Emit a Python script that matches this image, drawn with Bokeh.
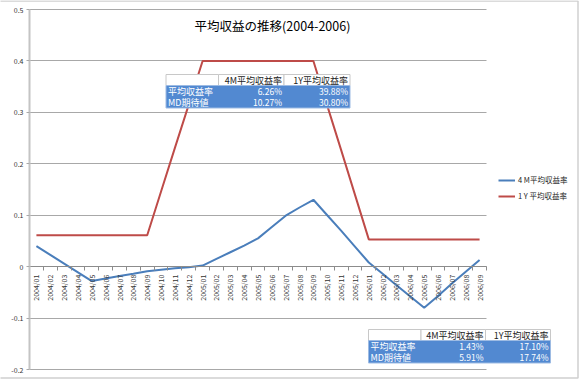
from math import pi
from bokeh.plotting import figure
from bokeh.models import (Range1d, LinearAxis, FixedTicker, Label, ColumnDataSource,
                          BoxAnnotation, Legend, LegendItem, Grid)
from bokeh.embed import file_html
from bokeh.resources import INLINE

# ---------------- data ----------------
months = ["2004/01", "2004/02", "2004/03", "2004/04", "2004/05", "2004/06", "2004/07",
          "2004/08", "2004/09", "2004/10", "2004/11", "2004/12", "2005/01", "2005/02",
          "2005/03", "2005/04", "2005/05", "2005/06", "2005/07", "2005/08", "2005/09",
          "2005/10", "2005/11", "2005/12", "2006/01", "2006/02", "2006/03", "2006/04",
          "2006/05", "2006/06", "2006/07", "2006/08", "2006/09"]

rate_4m = [0.040, 0.023, 0.006, -0.011, -0.028, -0.023, -0.018, -0.014, -0.009,
           -0.006, -0.003, -0.001, 0.002, 0.015, 0.028, 0.041, 0.055, 0.077, 0.099,
           0.115, 0.130, 0.100, 0.070, 0.039, 0.008, -0.014, -0.036, -0.058, -0.080,
           -0.057, -0.033, -0.010, 0.013]

rate_1y = [0.061, 0.061, 0.061, 0.061, 0.061, 0.061, 0.061, 0.061, 0.061,
           0.146, 0.231, 0.315, 0.400, 0.400, 0.400, 0.400, 0.400, 0.400, 0.400,
           0.400, 0.400, 0.313, 0.227, 0.140, 0.053, 0.053, 0.053, 0.053, 0.053,
           0.053, 0.053, 0.053, 0.053]

y_ticks = [-0.2, -0.1, 0.0, 0.1, 0.2, 0.3, 0.4, 0.5]
y_tick_labels = ["-0.2", "-0.1", "0", "0.1", "0.2", "0.3", "0.4", "0.5"]

series_names = ["4 M平均収益率", "1 Y 平均収益率"]
title_text = "平均収益の推移(2004-2006)"

table_cols = ["4M平均収益率", "1Y平均収益率"]
table_rows = ["平均収益率", "MD期待値"]
table1_values = [["6.26%", "39.88%"], ["10.27%", "30.80%"]]
table2_values = [["1.43%", "17.10%"], ["5.91%", "17.74%"]]

# category slots: month i occupies [i, i+1], point at its centre
N = len(months)
centers = [i + 0.5 for i in range(N)]
edges = list(range(N + 1))
src = ColumnDataSource(dict(x=centers, month=months, r4=rate_4m, r1=rate_1y))

Y_MIN, Y_MAX = y_ticks[0], y_ticks[-1]

# ---------------- layout (reference pixel -> data units) ----------------
W, H = 580, 379
PLOT_L, PLOT_R, PLOT_T, PLOT_B = 29, 486, 9, 369
def dx(px):
    return (px - PLOT_L) / ((PLOT_R - PLOT_L) / N)
def dy(py):
    return Y_MAX - (py - PLOT_T) / ((PLOT_B - PLOT_T) / (Y_MAX - Y_MIN))

FONT = "Noto Sans CJK JP"
BLUE = "#4A7EBB"
RED = "#BE4B48"
GRID = "#a8a8a8"
AXIS = "#8c8c8c"

p = figure(x_range=Range1d(dx(0), dx(W)), y_range=Range1d(dy(H), dy(0)),
           width=W, height=H, output_backend="svg", toolbar_location=None,
           x_axis_type=None, y_axis_type=None, min_border=0)
p.outline_line_color = None
p.background_fill_color = "white"
p.border_fill_color = "white"
for r in list(p.center):
    if isinstance(r, Grid):
        p.center.remove(r)

# horizontal grid lines limited to the plot area
ygrid = Grid(dimension=1, ticker=FixedTicker(ticks=y_ticks), grid_line_color=GRID,
             grid_line_width=1)
try:
    ygrid.cross_bounds = (0, N)
    p.add_layout(ygrid, "center")
except AttributeError:
    p.segment(x0=[0] * len(y_ticks), x1=[N] * len(y_ticks), y0=y_ticks, y1=y_ticks,
              line_color=GRID, line_width=1)

# y axis at the left edge of the plot area
ya = LinearAxis(ticker=FixedTicker(ticks=y_ticks), fixed_location=0, bounds=(Y_MIN, Y_MAX),
                major_label_overrides={t: l for t, l in zip(y_ticks, y_tick_labels)},
                axis_line_color="#c4c4c4", axis_line_width=2,
                major_tick_line_color=GRID, major_tick_out=3, major_tick_in=0,
                minor_tick_line_color=None, major_label_text_font=FONT,
                major_label_text_font_size="7px", major_label_text_color="#333333",
                major_label_standoff=3)
p.add_layout(ya, "left")

# x axis crossing at 0: labels at slot centres, ticks on slot boundaries
xa = LinearAxis(ticker=FixedTicker(ticks=centers, minor_ticks=edges), bounds=(0, N),
                major_label_overrides={c: m for c, m in zip(centers, months)},
                major_label_orientation=pi / 2, fixed_location=0,
                axis_line_color=AXIS, axis_line_width=1,
                major_tick_line_color=None, major_tick_out=0, major_tick_in=0,
                minor_tick_line_color=AXIS, minor_tick_out=4, minor_tick_in=0,
                major_label_text_font=FONT, major_label_text_font_size="7px",
                major_label_text_color="#333333", major_label_standoff=4)
p.add_layout(xa, "below")

# lines
r4 = p.line(x="x", y="r4", source=src, line_color=BLUE, line_width=2)
r1 = p.line(x="x", y="r1", source=src, line_color=RED, line_width=2)

# legend
legend = Legend(items=[LegendItem(label=series_names[0], renderers=[r4]),
                       LegendItem(label=series_names[1], renderers=[r1])],
                location=(498, H - 201), border_line_color=None, background_fill_alpha=0,
                label_text_font=FONT, label_text_font_size="7.5px",
                label_text_color="#222222", glyph_width=17, glyph_height=8,
                label_height=8, spacing=5, padding=0, margin=0, label_standoff=3)
p.add_layout(legend, "center")

# title
p.add_layout(Label(x=dx(272), y=dy(25), text=title_text, text_font=FONT,
                   text_font_size="12.5px", text_color="#000000",
                   text_align="center", text_baseline="middle"))

# outer chart border
p.add_layout(BoxAnnotation(left=dx(-20), right=dx(577.5), top=dy(0.5), bottom=dy(377.5),
                           fill_alpha=0, line_color="#d0d0d0", line_alpha=1, line_width=1.5))

TABLE_BLUE = "#5289D1"
def draw_table(xs, ys, values):
    for i in range(3):
        p.add_layout(BoxAnnotation(left=dx(xs[i]), right=dx(xs[i + 1]),
                                   top=dy(ys[0]), bottom=dy(ys[1]),
                                   fill_color="white", fill_alpha=1,
                                   line_color="#c8c8c8", line_alpha=1, line_width=1))
    p.add_layout(BoxAnnotation(left=dx(xs[0]), right=dx(xs[3]),
                               top=dy(ys[1]), bottom=dy(ys[3]),
                               fill_color=TABLE_BLUE, fill_alpha=1,
                               line_color="#9dbbe3", line_alpha=1, line_width=1))
    for j, h in enumerate(table_cols):
        p.add_layout(Label(x=dx(xs[j + 2] - 2), y=dy((ys[0] + ys[1]) / 2), text=h,
                           text_font=FONT, text_font_size="9px", text_color="#222222",
                           text_align="right", text_baseline="middle"))
    for r, name in enumerate(table_rows):
        yc = dy((ys[r + 1] + ys[r + 2]) / 2)
        p.add_layout(Label(x=dx(xs[0] + 2), y=yc, text=name, text_font=FONT,
                           text_font_size="9px", text_color="white",
                           text_align="left", text_baseline="middle"))
        for j in range(2):
            p.add_layout(Label(x=dx(xs[j + 2] - 2), y=yc, text=values[r][j],
                               text_font=FONT, text_font_size="8.5px", text_color="white",
                               text_align="right", text_baseline="middle"))

draw_table([165.5, 218, 283.5, 349.5], [74, 85, 96.3, 107.5], table1_values)
draw_table([368, 420.5, 485, 550], [329, 340, 351.3, 362.5], table2_values)

open("out.html", "w").write(file_html(p, INLINE))
